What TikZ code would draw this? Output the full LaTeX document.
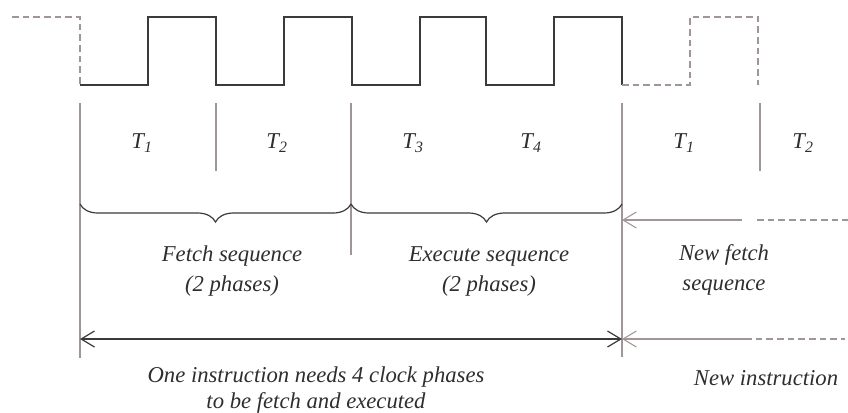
\documentclass[tikz,border=0pt]{standalone}
\usepackage{fontspec}
\setmainfont{Liberation Serif}
\usetikzlibrary{arrows.meta,decorations.pathreplacing}
\definecolor{wave}{HTML}{3A3A3A}
\definecolor{ghost}{HTML}{A39595}
\definecolor{ink}{HTML}{2E2E2E}
\tikzset{
  clk/.style={line width=1.1pt, wave},
  clkdash/.style={line width=1pt, ghost, dash pattern=on 5pt off 3pt},
  phaseline/.style={line width=0.8pt, ghost},
  lbl/.style={font=\itshape\fontsize{17}{22.5}\selectfont, text=ink, align=center, inner sep=0pt},
  brc/.style={decorate, decoration={brace, mirror, amplitude=13.5pt}, line width=0.9pt, wave},
  barb/.style={{Straight Barb[length=10pt,width=12pt]}-{Straight Barb[length=10pt,width=12pt]}},
  lbarb/.style={{Straight Barb[length=10pt,width=12pt]}-}
}
\newcommand{\Tph}[1]{T\textsubscript{#1}}
\begin{document}
\begin{tikzpicture}[x=0.75pt, y=-0.75pt]
    \useasboundingbox (0,0) rectangle (848,412);
    % clock
    \draw[clkdash] (12,17) -- (80,17) -- (80,85);
    \draw[clk] (80,85) -- (148,85) -- (148,17) -- (216,17) -- (216,85) -- (284,85) -- (284,17)
      -- (352,17) -- (352,85) -- (420,85) -- (420,17) -- (486,17) -- (486,85) -- (554,85)
      -- (554,17) -- (622,17) -- (622,85);
    \draw[clkdash] (622,85) -- (690,85) -- (690,17) -- (758,17) -- (758,85);
    % phase borders
    \coordinate (a0) at (80,103);   \coordinate (b0) at (80,358);
    \coordinate (a1) at (216,103);  \coordinate (b1) at (216,171);
    \coordinate (a2) at (351,103);  \coordinate (b2) at (351,255);
    \coordinate (a3) at (622,103);  \coordinate (b3) at (622,357);
    \coordinate (a4) at (760,103);  \coordinate (b4) at (760,171);
    \draw[phaseline] (a0) -- (b0);
    \draw[phaseline] (a1) -- (b1);
    \draw[phaseline] (a2) -- (b2);
    \draw[phaseline] (a3) -- (b3);
    \draw[phaseline] (a4) -- (b4);
    % phases
    \node[lbl] (t1) at (142,143) {\Tph{1}};
    \node[lbl] (t2) at (277,143) {\Tph{2}};
    \node[lbl] (t3) at (413,143) {\Tph{3}};
    \node[lbl] (t4) at (531,143) {\Tph{4}};
    \node[lbl] (t1n) at (684,143) {\Tph{1}};
    \node[lbl] (t2n) at (803,143) {\Tph{2}};
    % braces
    \draw[brc] (80,204) -- (351,204);
    \draw[brc] (351,204) -- (622,204);
    \node[lbl] (fetch) at (232,271) {Fetch sequence\\(2 phases)};
    \node[lbl] (exec) at (489,271) {Execute sequence\\(2 phases)};
    \node[lbl] (newfetch) at (724,270) {New fetch\\sequence};
    % next fetch
    \coordinate (nf) at (622,220);
    \coordinate (nfa) at (742,220);
    \coordinate (nfb) at (757,220);
    \coordinate (nfc) at (848,220);
    \draw[phaseline, lbarb] (nf) -- (nfa);
    \draw[clkdash] (nfb) -- (nfc);
    % instruction length
    \coordinate (ia) at (80,339);
    \coordinate (ib) at (622,339);
    \coordinate (ic) at (745,339);
    \coordinate (id) at (845,339);
    \draw[line width=0.9pt, wave, barb] (ia) -- (ib);
    \draw[phaseline, lbarb] (ib) -- (ic);
    \draw[clkdash] (ic) -- (id);
    \node[lbl, font=\itshape\fontsize{17}{19}\selectfont] (instr) at (316,390) {One instruction needs 4 clock phases\\to be fetch and executed};
    \node[lbl] (newinstr) at (766,378) {New instruction};
\end{tikzpicture}
\end{document}
